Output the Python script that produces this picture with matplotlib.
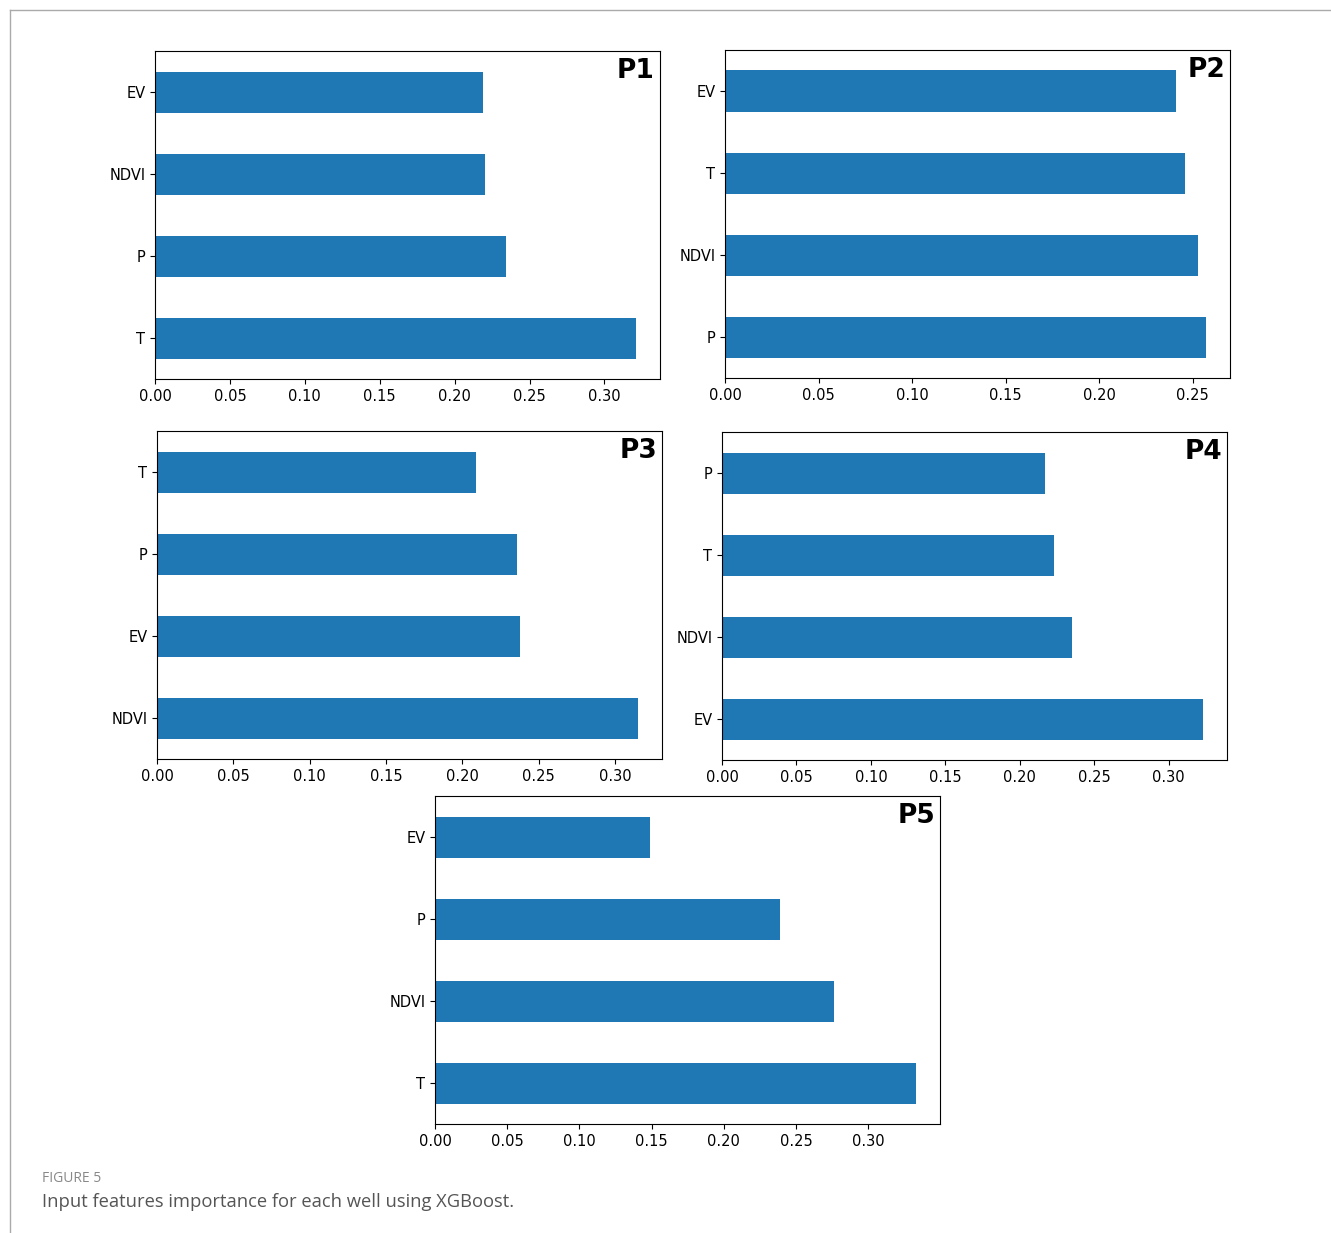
import matplotlib.pyplot as plt
from matplotlib.lines import Line2D

W, H = 1331, 1233

# feature importances per well (bottom to top, as drawn)
p1_labels = ["T", "P", "NDVI", "EV"]
p1_vals = [0.321, 0.234, 0.220, 0.219]
p2_labels = ["P", "NDVI", "T", "EV"]
p2_vals = [0.257, 0.253, 0.246, 0.241]
p3_labels = ["NDVI", "EV", "P", "T"]
p3_vals = [0.315, 0.238, 0.236, 0.209]
p4_labels = ["EV", "NDVI", "T", "P"]
p4_vals = [0.323, 0.235, 0.223, 0.217]
p5_labels = ["T", "NDVI", "P", "EV"]
p5_vals = [0.333, 0.276, 0.239, 0.149]

panels = [
    ("P1", p1_labels, p1_vals, (155, 51, 660, 379)),
    ("P2", p2_labels, p2_vals, (725, 50, 1230, 378)),
    ("P3", p3_labels, p3_vals, (157, 431, 662, 759)),
    ("P4", p4_labels, p4_vals, (722, 432, 1227, 760)),
    ("P5", p5_labels, p5_vals, (435, 796, 940, 1124)),
]

fig = plt.figure(figsize=(W / 100, H / 100), dpi=100)

for name, labels, vals, (x0, y0, x1, y1) in panels:
    ax = fig.add_axes([x0 / W, 1 - y1 / H, (x1 - x0) / W, (y1 - y0) / H])
    ax.barh(range(len(vals)), vals, height=0.5, color="#1f77b4")
    ax.set_yticks(range(len(vals)))
    ax.set_yticklabels(labels, fontsize=10.5)
    ax.set_ylim(-0.5, len(vals) - 0.5)
    ax.set_xlim(0, max(vals) * 1.05)
    ax.set_xticks([t / 100 for t in range(0, int(max(vals) * 1.05 * 100) + 1, 5)])
    ax.xaxis.set_major_formatter(plt.FormatStrFormatter("%.2f"))
    ax.tick_params(labelsize=10.5)
    ax.text(0.99, 0.98, name, transform=ax.transAxes, ha="right", va="top",
            fontsize=19, fontweight="bold")

# page frame lines
fig.add_artist(Line2D([10 / W, 1], [1 - 10 / H, 1 - 10 / H], color="#aaaaaa", lw=1))
fig.add_artist(Line2D([10 / W, 10 / W], [0, 1 - 10 / H], color="#aaaaaa", lw=1))

fig.text(42 / W, 1 - 1179 / H, "FIGURE 5", fontsize=10, color="#888888", va="center",
         family="Open Sans")
fig.text(42 / W, 1 - 1202 / H, "Input features importance for each well using XGBoost.",
         fontsize=13.2, color="#555555", va="center", family="Open Sans")

fig.savefig("out.png", dpi=100)
